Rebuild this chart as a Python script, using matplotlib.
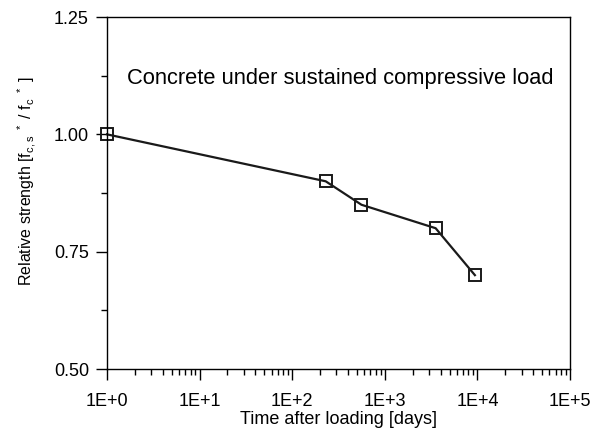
import numpy as np
import matplotlib.pyplot as plt
import matplotlib
from matplotlib.ticker import FixedLocator, LogLocator, NullFormatter

matplotlib.rcParams['font.family'] = ['Liberation Sans', 'DejaVu Sans']
matplotlib.rcParams['mathtext.default'] = 'regular'

# time after loading [days] and relative strength
days = [1, 230, 560, 3540, 9400]
strength = [1.00, 0.90, 0.85, 0.80, 0.70]
xtick_labels = ['1E+0', '1E+1', '1E+2', '1E+3', '1E+4', '1E+5']
yticks = [0.50, 0.75, 1.00, 1.25]

fig = plt.figure(figsize=(6.1, 4.32), dpi=100, facecolor='white')
ax = fig.add_axes([0.1754, 0.1458, 0.7590, 0.8148])

ax.plot(days, strength, color='#1a1a1a', linewidth=1.6,
        marker='s', markersize=8.5, markerfacecolor='none',
        markeredgecolor='#1a1a1a', markeredgewidth=1.4, clip_on=False)

ax.set_xscale('log')
ax.set_xlim(1, 1e5)
ax.set_ylim(0.5, 1.25)
ax.set_xticks([10.0**i for i in range(6)])
ax.set_xticklabels(xtick_labels)
ax.xaxis.set_minor_locator(LogLocator(base=10, subs=np.arange(2, 10)))
ax.xaxis.set_minor_formatter(NullFormatter())
ax.set_yticks(yticks)
ax.set_yticklabels(['%.2f' % v for v in yticks])
ax.yaxis.set_minor_locator(FixedLocator([0.625, 0.875, 1.125]))

ax.tick_params(which='major', direction='out', length=8, width=1, labelsize=13, colors='black')
ax.tick_params(axis='x', which='major', pad=9.5)
ax.tick_params(axis='y', which='major', pad=5)
ax.tick_params(which='minor', direction='out', length=4, width=1)
for s in ax.spines.values():
    s.set_linewidth(1)

ax.set_xlabel('Time after loading [days]', fontsize=13, labelpad=0.5)
ax.set_ylabel('Relative strength [f$_{c,s}$$^{\\ *}$ / f$_{c}$$^{\\ *}$ ]', fontsize=11.5)
ax.yaxis.set_label_coords(-0.149, 0.534)

ax.text(0.043, 0.824, 'Concrete under sustained compressive load',
        transform=ax.transAxes, fontsize=15.75, va='center', ha='left')

plt.savefig('out.png', dpi=100)
